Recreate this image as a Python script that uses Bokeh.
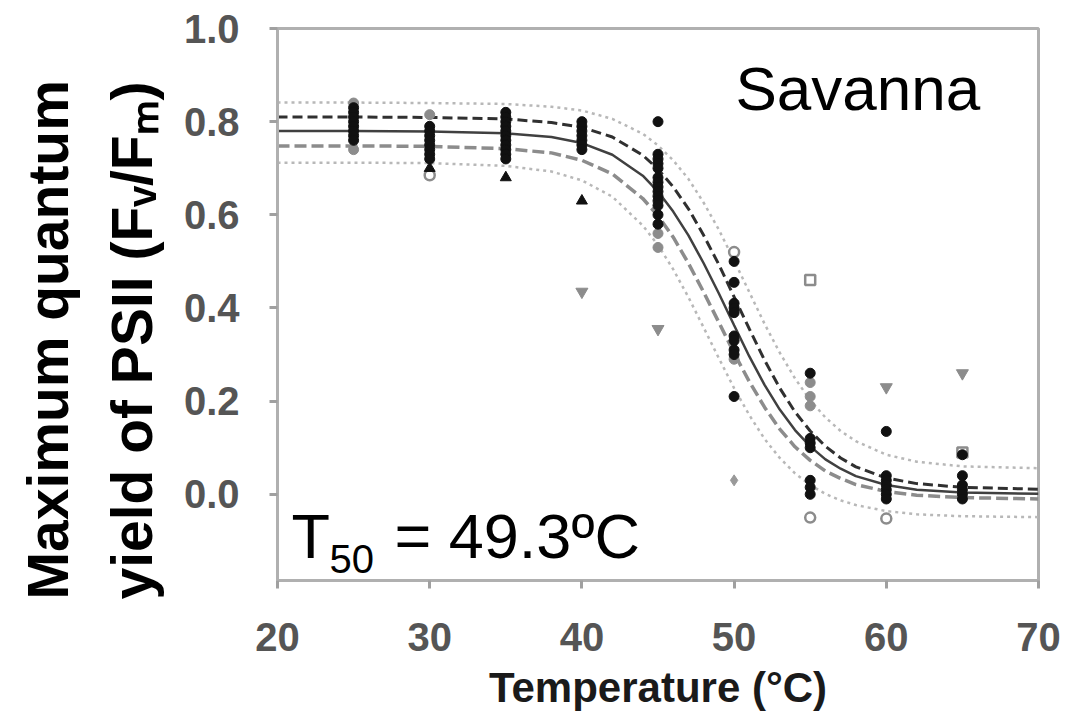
from bokeh.plotting import figure
from bokeh.models import Label, FixedTicker, PrintfTickFormatter, Range1d, Title
from bokeh.embed import file_html
from bokeh.resources import INLINE

# ---- fitted curves ----
fit_t = [20, 25, 30, 35, 38, 40, 42, 44, 45, 46, 47, 48, 49, 50, 51, 52, 53, 54, 55, 56, 57, 58, 60, 62, 65, 70]
fit_mid = [0.780, 0.780, 0.779, 0.775, 0.767, 0.754, 0.729, 0.684, 0.650, 0.607, 0.556, 0.496, 0.431, 0.363,
           0.296, 0.235, 0.182, 0.138, 0.103, 0.075, 0.055, 0.039, 0.020, 0.010, 0.004, 0.001]
conf_up = [0.810, 0.810, 0.809, 0.806, 0.798, 0.788, 0.767, 0.728, 0.698, 0.660, 0.613, 0.556, 0.493, 0.424,
           0.355, 0.288, 0.228, 0.177, 0.136, 0.103, 0.078, 0.059, 0.035, 0.023, 0.015, 0.011]
conf_lo = [0.748, 0.748, 0.747, 0.742, 0.733, 0.717, 0.688, 0.635, 0.598, 0.552, 0.496, 0.434, 0.369, 0.303,
           0.242, 0.187, 0.140, 0.102, 0.073, 0.050, 0.034, 0.021, 0.006, -0.002, -0.007, -0.010]
pred_up = [0.841, 0.841, 0.840, 0.838, 0.832, 0.824, 0.806, 0.774, 0.749, 0.717, 0.677, 0.626, 0.568, 0.502,
           0.434, 0.366, 0.304, 0.249, 0.202, 0.165, 0.136, 0.114, 0.085, 0.070, 0.060, 0.056]
pred_lo = [0.712, 0.712, 0.711, 0.705, 0.693, 0.674, 0.639, 0.577, 0.535, 0.483, 0.423, 0.358, 0.292, 0.228,
           0.170, 0.119, 0.078, 0.045, 0.020, 0.001, -0.013, -0.023, -0.036, -0.043, -0.047, -0.049]

# ---- measured points ----
blk_t = ([25] * 8 + [30] * 8 + [35] * 11 + [40] * 7 + [45] * 14 + [50] * 10 + [55] * 7 + [60] * 7 + [65] * 6)
blk_v = ([0.83, 0.82, 0.81, 0.80, 0.79, 0.78, 0.77, 0.76] +
         [0.79, 0.78, 0.77, 0.76, 0.75, 0.74, 0.73, 0.72] +
         [0.82, 0.81, 0.80, 0.79, 0.78, 0.77, 0.76, 0.75, 0.74, 0.73, 0.72] +
         [0.80, 0.79, 0.78, 0.77, 0.76, 0.75, 0.74] +
         [0.80, 0.73, 0.72, 0.71, 0.70, 0.68, 0.67, 0.66, 0.65, 0.64, 0.63, 0.62, 0.60, 0.58] +
         [0.50, 0.455, 0.41, 0.40, 0.39, 0.34, 0.33, 0.31, 0.30, 0.21] +
         [0.26, 0.12, 0.11, 0.10, 0.03, 0.015, 0.0] +
         [0.135, 0.04, 0.03, 0.02, 0.01, 0.0, -0.01] +
         [0.085, 0.04, 0.02, 0.01, 0.0, -0.01])
tri_t = [30, 35, 40]
tri_v = [0.70, 0.68, 0.63]
inv_t = [40, 45, 60, 65]
inv_v = [0.435, 0.355, 0.23, 0.26]
gry_t = [25, 25, 30, 45, 45, 50, 55, 55, 55]
gry_v = [0.84, 0.74, 0.815, 0.56, 0.53, 0.29, 0.24, 0.21, 0.19]
ocir_t = [30, 50, 55, 60]
ocir_v = [0.685, 0.52, -0.05, -0.052]
osq_t = [55, 65]
osq_v = [0.46, 0.09]
star_t = [50]
star_v = [0.03]

x_ticks = [20, 30, 40, 50, 60, 70]
y_ticks = [0.0, 0.2, 0.4, 0.6, 0.8, 1.0]

FONT = "Liberation Sans"
AX = "#b0b0b0"

p = figure(width=1062, height=713, x_range=Range1d(20, 70), y_range=Range1d(-0.185, 1.0),
           output_backend="svg", toolbar_location=None,
           min_border_left=277, min_border_right=24, min_border_top=28, min_border_bottom=133)
p.grid.visible = False
p.outline_line_color = AX
p.outline_line_width = 3
p.background_fill_color = "white"
p.border_fill_color = "white"

for ax in (p.xaxis, p.yaxis):
    ax.axis_line_color = AX
    ax.axis_line_width = 3
    ax.major_tick_line_color = "#a0a0a0"
    ax.major_tick_line_width = 3
    ax.major_tick_out = 8
    ax.major_tick_in = 0
    ax.minor_tick_line_color = None
    ax.major_label_text_font = FONT
    ax.major_label_text_font_style = "bold"
    ax.major_label_text_font_size = "40px"
    ax.major_label_text_color = "#555555"
p.xaxis.ticker = FixedTicker(ticks=x_ticks)
p.yaxis.ticker = FixedTicker(ticks=y_ticks)
p.xaxis.formatter = PrintfTickFormatter(format="%d")
p.yaxis.formatter = PrintfTickFormatter(format="%.1f")
p.xaxis.major_label_standoff = 34
p.yaxis.major_label_standoff = 30

p.xaxis.axis_label = "Temperature (\u00b0C)"
p.xaxis.axis_label_text_font = FONT
p.xaxis.axis_label_text_font_style = "bold"
p.xaxis.axis_label_text_font_size = "42px"
p.xaxis.axis_label_text_color = "#1a1a1a"
p.xaxis.axis_label_standoff = 10

# y axis title: two rotated lines in the left panel, starting a little below the frame bottom
p.add_layout(Title(text="yield of PSII (F\u1d65/F\u2098)", align="left", offset=-19, standoff=33,
                   text_font=FONT, text_font_style="bold", text_font_size="57px", text_color="black"), "left")
p.add_layout(Title(text="Maximum quantum", align="left", offset=-19, standoff=4,
                   text_font=FONT, text_font_style="bold", text_font_size="57px", text_color="black"), "left")

# curves
p.line(fit_t, pred_up, line_color="#b8b8b8", line_width=2.5, line_dash="3 4")
p.line(fit_t, pred_lo, line_color="#b8b8b8", line_width=2.5, line_dash="3 4")
p.line(fit_t, conf_lo, line_color="#8c8c8c", line_width=3.5, line_dash="12 5")
p.line(fit_t, conf_up, line_color="#303030", line_width=3, line_dash="10 5")
p.line(fit_t, fit_mid, line_color="#404040", line_width=2.5)

# points
p.scatter(gry_t, gry_v, marker="circle", size=10, fill_color="#8c8c8c", line_color="#8c8c8c")
p.scatter(ocir_t, ocir_v, marker="circle", size=10, fill_color="white", line_color="#8c8c8c", line_width=2.5)
p.scatter(osq_t, osq_v, marker="square", size=10, fill_color="white", line_color="#8c8c8c", line_width=2.5)
p.scatter(inv_t, inv_v, marker="inverted_triangle", size=12, fill_color="#8c8c8c", line_color="#8c8c8c")
p.scatter(star_t, star_v, marker="diamond", size=11, fill_color="#999999", line_color="#999999")
p.scatter(blk_t, blk_v, marker="circle", size=10, fill_color="#111111", line_color="#111111")
p.scatter(tri_t, tri_v, marker="triangle", size=11, fill_color="#111111", line_color="#111111")

# in-frame labels: screen coords relative to the frame's lower-left corner
FL, FB = 277, 580

def lab(text, x_abs, base_abs, size_px):
    p.add_layout(Label(x=x_abs - FL, y=(FB - base_abs) + 0.35 * size_px, x_units="screen", y_units="screen",
                       text=text, text_font=FONT, text_font_size="%dpx" % size_px, text_color="black",
                       text_align="left", text_baseline="middle"))

lab("Savanna", 735, 110, 62)
lab("T", 291, 558, 63)
lab("50", 329, 572, 40)
lab("= 49.3\u00baC", 394, 558, 63)

open("out.html", "w").write(file_html(p, INLINE))
